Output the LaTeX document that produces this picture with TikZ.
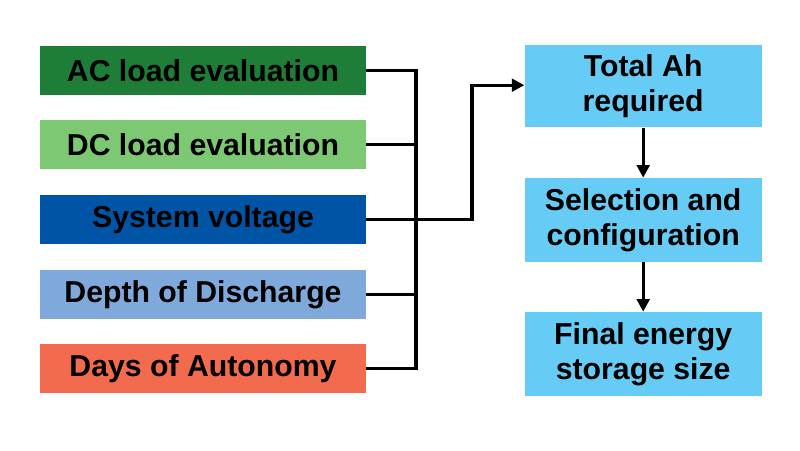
\documentclass[tikz,border=0pt]{standalone}
\usepackage{fontspec}
\setmainfont{Liberation Sans}
\usetikzlibrary{arrows.meta,positioning}
\definecolor{acgreen}{RGB}{30,125,55}
\definecolor{dcgreen}{RGB}{125,200,115}
\definecolor{sysblue}{RGB}{0,84,166}
\definecolor{dodblue}{RGB}{127,169,219}
\definecolor{autored}{RGB}{242,107,79}
\definecolor{outblue}{RGB}{102,204,245}
\tikzset{
  inbox/.style={minimum width=8.15cm, minimum height=1.225cm, inner sep=0pt,
    font=\bfseries\fontsize{21.5}{25}\selectfont},
  outbox/.style={fill=outblue, minimum width=5.925cm, minimum height=2.05cm, inner sep=0pt,
    align=center, font=\bfseries\fontsize{21.5}{25}\selectfont},
  link/.style={line width=2.4pt},
  flow/.style={line width=2.4pt, -{Triangle[length=9pt,width=9pt]}}
}
\begin{document}
\begin{tikzpicture}
\useasboundingbox (0,0) rectangle (20,11.25);
% INPUTS
\node [inbox, fill=acgreen] (ac) at (5.075,9.49) {AC load evaluation};
\node [inbox, fill=dcgreen] (dc) at (5.075,7.64) {DC load evaluation};
\node [inbox, fill=sysblue] (sys) at (5.075,5.76) {System voltage};
\node [inbox, fill=dodblue] (dod) at (5.075,3.89) {Depth of Discharge};
\node [inbox, fill=autored] (aut) at (5.075,2.04) {Days of Autonomy};

% OUTPUTS
\node [outbox] (ah) at (16.08,9.09) {Total Ah\\required};
\node [outbox, minimum height=2.1cm] (sel) at (16.08,5.75) {Selection and\\configuration};
\node [outbox, minimum height=2.1cm] (fin) at (16.08,2.4) {Final energy\\storage size};

% BUS
\coordinate (top) at (10.4,9.49);
\coordinate (bot) at (10.4,2.04);
\coordinate (mid) at (10.4,5.76);
\coordinate (bend) at (11.8,5.76);
\draw [link] (ac.east) -- (top) -- (bot) -- (aut.east);
\draw [link] (dc.east) -- (dc.east -| top);
\draw [link] (sys.east) -- (mid);
\draw [link] (dod.east) -- (dod.east -| top);
\draw [flow] (mid) -- (bend) |- (ah.west |- 0,9.12);
\draw [flow] (ah) -- (sel);
\draw [flow] (sel) -- (fin);
\end{tikzpicture}
\end{document}
